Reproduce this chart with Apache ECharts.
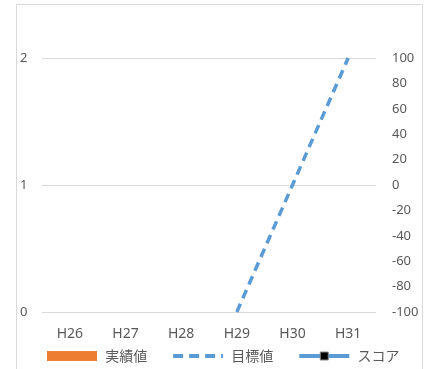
<!DOCTYPE html>
<html><head><meta charset="utf-8">
<script src="https://cdn.jsdelivr.net/npm/echarts@6/dist/echarts.min.js"></script>
<style>html,body{margin:0;padding:0;background:#fff}#c{width:429px;height:369px}</style>
</head><body><div id="c"></div>
<script>
var categories = ['H26','H27','H28','H29','H30','H31'];
var actualValues = [null,null,null,null,null,null];
var targetValues = [null,null,null,-100,0,100];
var scoreValues = [null,null,null,null,null,null];
var seriesNames = ['実績値','目標値','スコア'];

var chart = echarts.init(document.getElementById('c'));
var font = "'Noto Sans', 'Noto Sans CJK JP', sans-serif";
chart.setOption({
  animation: false,
  graphic: [{type:'rect', shape:{x:16.5,y:4.5,width:406,height:400}, style:{fill:'none', stroke:'#d9d9d9', lineWidth:1}}],
  grid: {left:42, right:53, top:58, bottom:57},
  legend: {
    bottom: 1, left: 42, itemGap: 24, itemWidth: 50, itemHeight: 10,
    formatter: function (n) { return ' ' + n; },
    textStyle: {color:'#595959', fontSize:14, fontFamily:"'Noto Sans CJK JP', sans-serif"},
    data: [
      {name: seriesNames[0], icon: 'rect'},
      {name: seriesNames[1], lineStyle:{width:4, type:[10,6], color:'#5B9BD5'}, itemStyle:{color:'rgba(0,0,0,0)', borderWidth:0}},
      {name: seriesNames[2], lineStyle:{width:4, color:'#5B9BD5'}, itemStyle:{color:'#000', borderColor:'#888', borderWidth:1}}
    ]
  },
  xAxis: {
    type:'category', data: categories,
    axisLine:{show:false}, axisTick:{show:false},
    axisLabel:{color:'#595959', fontSize:14, fontFamily:font, margin:15}
  },
  yAxis: [{
    type:'value', min:0, max:2, interval:1,
    axisLine:{show:false}, axisTick:{show:false},
    axisLabel:{color:'#595959', fontSize:13, fontFamily:font, align:'left', margin:22},
    splitLine:{lineStyle:{color:'#d9d9d9', width:1}}
  },{
    type:'value', min:-100, max:100, interval:20, position:'right',
    axisLine:{show:false}, axisTick:{show:false},
    axisLabel:{color:'#595959', fontSize:13, fontFamily:font, align:'left', margin:16},
    splitLine:{show:false}
  }],
  series: [{
    name: seriesNames[0], type:'bar', data: actualValues, itemStyle:{color:'#ED7D31'}
  },{
    name: seriesNames[1], type:'line', yAxisIndex:1, data: targetValues,
    symbol:'none', itemStyle:{color:'#5B9BD5'},
    lineStyle:{color:'#5B9BD5', width:3.5, type:[9,6]}
  },{
    name: seriesNames[2], type:'line', yAxisIndex:1, data: scoreValues,
    symbol:'rect', symbolSize:8, itemStyle:{color:'#000'},
    lineStyle:{color:'#5B9BD5', width:3}
  }]
});
</script></body></html>
